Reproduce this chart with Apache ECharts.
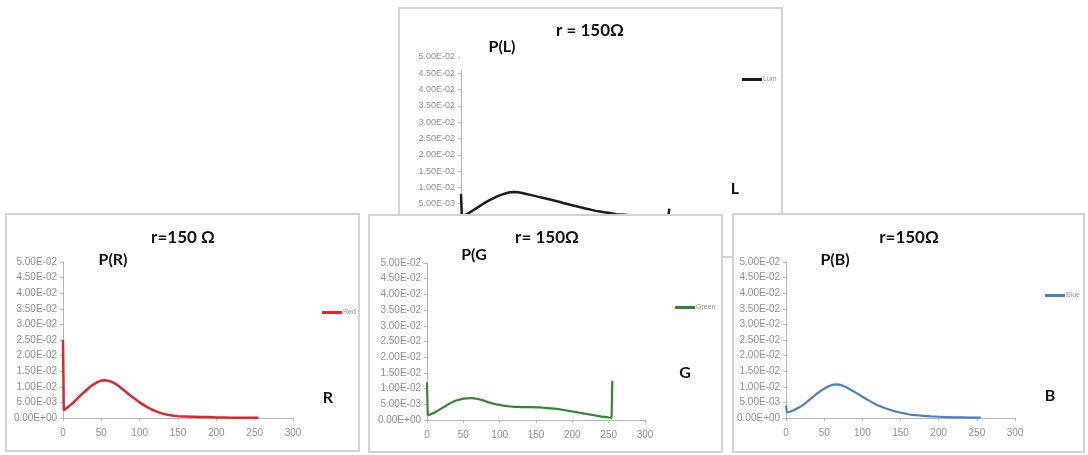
<!DOCTYPE html>
<html>
<head>
<meta charset="utf-8">
<script src="https://cdn.jsdelivr.net/npm/echarts@6/dist/echarts.min.js"></script>
<style>
  body { margin: 0; width: 1088px; height: 455px; background: #fff; position: relative; overflow: hidden; }
  .panel { position: absolute; box-sizing: border-box; border: 2px solid #d2d2d2; background: #fff; }
  .panel > div { width: 100%; height: 100%; }
</style>
</head>
<body>
<div class="panel" id="pLum" style="left:398px;top:7px;width:385px;height:251px;z-index:1"><div id="cLum"></div></div>
<div class="panel" id="pRed" style="left:5px;top:213px;width:355px;height:239px;z-index:2"><div id="cRed"></div></div>
<div class="panel" id="pGreen" style="left:368px;top:214px;width:355px;height:239px;z-index:2"><div id="cGreen"></div></div>
<div class="panel" id="pBlue" style="left:732px;top:213px;width:353px;height:240px;z-index:2"><div id="cBlue"></div></div>
<script>
// tick labels, Excel style
const yTickLabels = ['0.00E+00', '5.00E-03', '1.00E-02', '1.50E-02', '2.00E-02', '2.50E-02',
  '3.00E-02', '3.50E-02', '4.00E-02', '4.50E-02', '5.00E-02']

// luminance histogram
const xLum = [0, 1, 5, 10, 15, 20, 25, 30, 35, 40, 45, 50, 55, 60, 65, 70, 75, 80, 85, 90, 95, 100,
  105, 110, 115, 120, 125, 130, 135, 140, 145, 150, 155, 160, 165, 170, 175, 180, 185, 190, 200,
  210, 220, 230, 240, 250, 254, 255]
const pLum = [0.0080, 0.0012, 0.0015, 0.0022, 0.0030, 0.0038, 0.0046, 0.0054, 0.0061, 0.0067, 0.0073,
  0.0078, 0.0082, 0.0085, 0.0086, 0.0085, 0.0083, 0.0080, 0.0077, 0.0074, 0.0071, 0.0068, 0.0065,
  0.0062, 0.0059, 0.0056, 0.0052, 0.0049, 0.0046, 0.0043, 0.0040, 0.0037, 0.0034, 0.0031, 0.0028,
  0.0026, 0.0024, 0.0022, 0.0020, 0.0018, 0.0016, 0.0014, 0.0013, 0.0012, 0.0011, 0.0010, 0.0010, 0.0035]

const xRed = [0, 1, 5, 10, 15, 20, 25, 30, 35, 40, 45, 50, 55, 60, 65, 70, 75, 80, 85, 90, 95, 100,
  105, 110, 115, 120, 125, 130, 135, 140, 145, 150, 160, 170, 180, 190, 200, 210, 220, 230, 240, 250, 255]
const pRed = [0.0250, 0.0025, 0.0032, 0.0042, 0.0053, 0.0065, 0.0077, 0.0088, 0.0099, 0.0108, 0.0115,
  0.0120, 0.0121, 0.0119, 0.0114, 0.0107, 0.0098, 0.0088, 0.0078, 0.0068, 0.0059, 0.0050, 0.0042,
  0.0035, 0.0028, 0.0023, 0.0018, 0.0014, 0.0011, 0.0009, 0.0007, 0.0006, 0.0005, 0.0004, 0.0003,
  0.0003, 0.0002, 0.0002, 0.0001, 0.0001, 0.0001, 0.0001, 0.0001]

const xGreen = [0, 1, 5, 10, 15, 20, 25, 30, 35, 40, 45, 50, 55, 60, 65, 70, 75, 80, 85, 90, 95, 100,
  105, 110, 115, 120, 125, 130, 135, 140, 145, 150, 155, 160, 165, 170, 175, 180, 185, 190, 195, 200,
  205, 210, 215, 220, 225, 230, 235, 240, 245, 250, 254, 255]
const pGreen = [0.0120, 0.0015, 0.0018, 0.0023, 0.0030, 0.0037, 0.0044, 0.0051, 0.0057, 0.0062, 0.0065,
  0.0068, 0.0069, 0.0070, 0.0069, 0.0067, 0.0064, 0.0060, 0.0056, 0.0053, 0.0050, 0.0048, 0.0046,
  0.0044, 0.0043, 0.0042, 0.0042, 0.0041, 0.0041, 0.0041, 0.0041, 0.0040, 0.0040, 0.0039, 0.0038,
  0.0037, 0.0036, 0.0035, 0.0033, 0.0031, 0.0029, 0.0027, 0.0025, 0.0023, 0.0021, 0.0019, 0.0017,
  0.0015, 0.0013, 0.0011, 0.0010, 0.0008, 0.0007, 0.0125]

const xBlue = [0, 1, 5, 10, 15, 20, 25, 30, 35, 40, 45, 50, 55, 60, 65, 70, 75, 80, 85, 90, 95, 100,
  105, 110, 115, 120, 125, 130, 135, 140, 145, 150, 155, 160, 165, 170, 175, 180, 190, 200, 210,
  220, 230, 240, 255]
const pBlue = [0.0040, 0.0018, 0.0020, 0.0025, 0.0031, 0.0038, 0.0047, 0.0057, 0.0067, 0.0077, 0.0086,
  0.0094, 0.0101, 0.0106, 0.0108, 0.0107, 0.0103, 0.0097, 0.0090, 0.0083, 0.0076, 0.0068, 0.0061,
  0.0054, 0.0047, 0.0041, 0.0036, 0.0031, 0.0027, 0.0023, 0.0020, 0.0017, 0.0015, 0.0012, 0.0010,
  0.0009, 0.0008, 0.0007, 0.0005, 0.0004, 0.0003, 0.0002, 0.0002, 0.0001, 0.0001]

const axisGray = '#b4b4b4'
const labelGray = '#8c8c8c'

function zip (xs, ys) {
  return xs.map((x, i) => [x, ys[i]])
}

function whiteBox (x, y, w, h) {
  return { type: 'rect', z: 50, shape: { x: x, y: y, width: w, height: h }, style: { fill: '#fff' } }
}

function boldText (text, x, y, size) {
  return {
    type: 'text', z: 60, x: x, y: y,
    style: { text: text, fill: '#111', font: 'bold ' + size + 'px Lato, "Open Sans", sans-serif', align: 'center', verticalAlign: 'middle' }
  }
}

function makePanel (id, c) {
  const chart = echarts.init(document.getElementById(id), null, { renderer: 'canvas' })
  chart.setOption({
    animation: false,
    backgroundColor: '#fff',
    grid: { left: c.grid[0], top: c.grid[1], width: c.grid[2], height: c.grid[3] },
    legend: {
      left: c.legend[0], top: c.legend[1],
      icon: 'rect', itemWidth: 20, itemHeight: 3, itemGap: 2,
      textStyle: { fontSize: 7, color: labelGray, padding: [0, 0, 0, -4] },
      data: [c.name]
    },
    xAxis: {
      type: 'value', min: 0, max: 300, interval: 50,
      axisLine: { lineStyle: { color: axisGray } },
      axisTick: { show: true, length: 3, inside: false, lineStyle: { color: axisGray } },
      axisLabel: { color: labelGray, fontSize: 10, margin: 10, fontFamily: 'Liberation Sans' },
      splitLine: { show: false }
    },
    yAxis: {
      type: 'value', min: 0, max: 0.05, interval: 0.005,
      axisLine: { show: true, lineStyle: { color: axisGray } },
      axisTick: { show: true, length: 3, inside: false, lineStyle: { color: axisGray } },
      axisLabel: {
        color: labelGray, fontSize: c.tickSize, margin: 6, fontFamily: 'Liberation Sans',
        formatter: (v) => yTickLabels[Math.round(v / 0.005)]
      },
      splitLine: { show: false }
    },
    series: [{
      name: c.name,
      type: 'line',
      data: c.data,
      showSymbol: false,
      color: c.color,
      lineStyle: { color: c.color, width: c.width }
    }],
    graphic: [
      boldText(c.title, c.titlePos[0], c.titlePos[1], 17),
      whiteBox(c.pBox[0], c.pBox[1], c.pBox[2], c.pBox[3]),
      boldText(c.pText, c.pPos[0], c.pPos[1], 16),
      whiteBox(c.cBox[0], c.cBox[1], c.cBox[2], c.cBox[3]),
      boldText(c.cText, c.cPos[0], c.cPos[1], 16)
    ]
  })
  return chart
}

makePanel('cLum', {
  name: 'Lum', data: zip(xLum, pLum), color: '#1c1c1c', width: 2.5, tickSize: 9,
  grid: [61, 48, 245, 163], legend: [337, 62],
  title: 'r = 150Ω', titlePos: [190, 22],
  pBox: [60, 14, 77, 47], pText: 'P(L)', pPos: [102, 38],
  cBox: [300, 156, 59, 43], cText: 'L', cPos: [335, 180]
})
makePanel('cRed', {
  name: 'Red', data: zip(xRed, pRed), color: '#e0262b', width: 2.5, tickSize: 10,
  grid: [56, 47, 230, 156], legend: [310, 89],
  title: 'r=150 Ω', titlePos: [176, 23],
  pBox: [68, 20, 75, 45], pText: 'P(R)', pPos: [106, 45],
  cBox: [293, 158, 47, 45], cText: 'R', cPos: [321, 183]
})
makePanel('cGreen', {
  name: 'Green', data: zip(xGreen, pGreen), color: '#2f8a2f', width: 2.2, tickSize: 10,
  grid: [57, 47, 218, 157], legend: [300, 83],
  title: 'r= 150Ω', titlePos: [177, 22],
  pBox: [65, 16, 73, 45], pText: 'P(G', pPos: [104, 39],
  cBox: [288, 132, 54, 45], cText: 'G', cPos: [315, 157]
})
makePanel('cBlue', {
  name: 'Blue', data: zip(xBlue, pBlue), color: '#4a7fc1', width: 2.2, tickSize: 10,
  grid: [52, 47, 229, 156], legend: [306, 72],
  title: 'r=150Ω', titlePos: [175, 23],
  pBox: [64, 20, 74, 45], pText: 'P(B)', pPos: [101, 45],
  cBox: [286, 158, 55, 45], cText: 'B', cPos: [316, 181]
})
</script>
</body>
</html>
